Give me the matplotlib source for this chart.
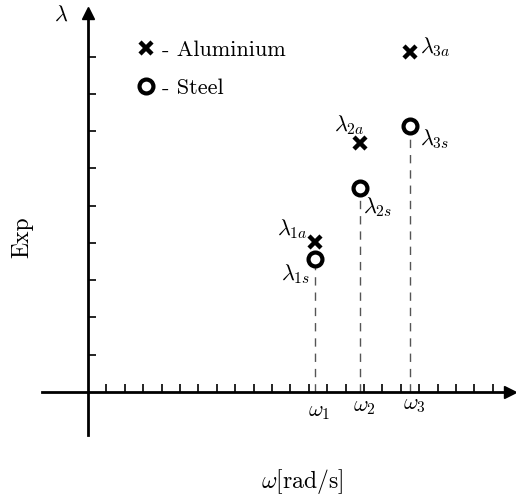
import matplotlib
matplotlib.use("Agg")
import matplotlib.pyplot as plt

# ---- data ----
omega = [12.35, 14.8, 17.5]            # natural frequencies (x units)
lam_al = [4.03, 6.68, 9.12]            # Aluminium
lam_st = [3.57, 5.47, 7.14]            # Steel
al_labels = [r'$\lambda_{1a}$', r'$\lambda_{2a}$', r'$\lambda_{3a}$']
st_labels = [r'$\lambda_{1s}$', r'$\lambda_{2s}$', r'$\lambda_{3s}$']
omega_labels = [r'$\omega_1$', r'$\omega_2$', r'$\omega_3$']
xticks = list(range(1, 23))
yticks = list(range(1, 10))

plt.rcParams['mathtext.fontset'] = 'cm'
plt.rcParams['font.family'] = ['cmr10', 'DejaVu Serif']
plt.rcParams['axes.unicode_minus'] = False

W, H = 516, 500
fig = plt.figure(figsize=(W / 100, H / 100), dpi=100)
ax = fig.add_axes([0, 0, 1, 1])
xu, yu = 18.4, 37.26
ax.set_xlim(-88 / xu, (W - 88) / xu)
ax.set_ylim(-(H - 392) / yu, 392 / yu)

for s in ('top', 'right'):
    ax.spines[s].set_visible(False)
ax.spines['left'].set_position(('data', 0))
ax.spines['bottom'].set_position(('data', 0))
ax.spines['left'].set_linewidth(2)
ax.spines['bottom'].set_linewidth(2)
ax.spines['left'].set_bounds(-43 / yu, (392 - 15) / yu)
ax.spines['bottom'].set_bounds(-46 / xu, (W - 88 - 8) / xu)
ax.set_xticks(xticks)
ax.set_yticks(yticks)
ax.set_xticklabels([])
ax.set_yticklabels([])
ax.tick_params(direction='in', length=6, width=1.2, color='black')

# arrow heads
ax.plot((W - 88 - 6) / xu, 0, marker='>', color='black', ms=9, clip_on=False)
ax.plot(0, (392 - 13) / yu, marker='^', color='black', ms=9, clip_on=False)

# dashed drop lines
ax.vlines(omega, 0, lam_st, colors='#555555', linestyles=(0, (6, 5)),
          linewidth=1.0, zorder=1)

al = ax.plot(omega, lam_al, linestyle='none', marker='x', color='black',
             ms=9, mew=3.2, zorder=3, label='- Aluminium')[0]
st = ax.plot(omega, lam_st, linestyle='none', marker='o', mfc='white',
             mec='black', ms=10, mew=3, zorder=3, label='- Steel')[0]

leg = ax.legend(handles=[al, st], loc='upper left', frameon=False,
                bbox_to_anchor=(135 / W, 1 - 40 / H), fontsize=16,
                handlelength=1.0, handletextpad=0.23, labelspacing=0.86,
                borderaxespad=0, borderpad=0)

fs = 16
al_off = [(-8, 13, 'right'), (-11, 18, 'center'), (10, 5, 'left')]
st_off = [(-5, -15, 'right'), (3, -19, 'left'), (10, -13, 'left')]
for x, y, t, (dx, dy, ha) in zip(omega, lam_al, al_labels, al_off):
    ax.annotate(t, (x, y), xytext=(dx, dy), textcoords='offset pixels',
                ha=ha, va='center', fontsize=fs)
for x, y, t, (dx, dy, ha) in zip(omega, lam_st, st_labels, st_off):
    ax.annotate(t, (x, y), xytext=(dx, dy), textcoords='offset pixels',
                ha=ha, va='center', fontsize=fs)
for x, t, dy in zip(omega, omega_labels, [-20, -15, -13]):
    ax.annotate(t, (x, 0), xytext=(4, dy), textcoords='offset pixels',
                ha='center', va='center', fontsize=fs)

fig.text(61 / W, 1 - 15 / H, r'$\lambda$', ha='center', va='center', fontsize=fs)
fig.text(22 / W, 1 - 237 / H, 'Exp', rotation=90, ha='center', va='center',
         fontsize=17)
fig.text(302 / W, 1 - 482 / H, r'$\omega$[rad/s]', ha='center', va='center',
         fontsize=17)

fig.savefig('out.png', dpi=100)
